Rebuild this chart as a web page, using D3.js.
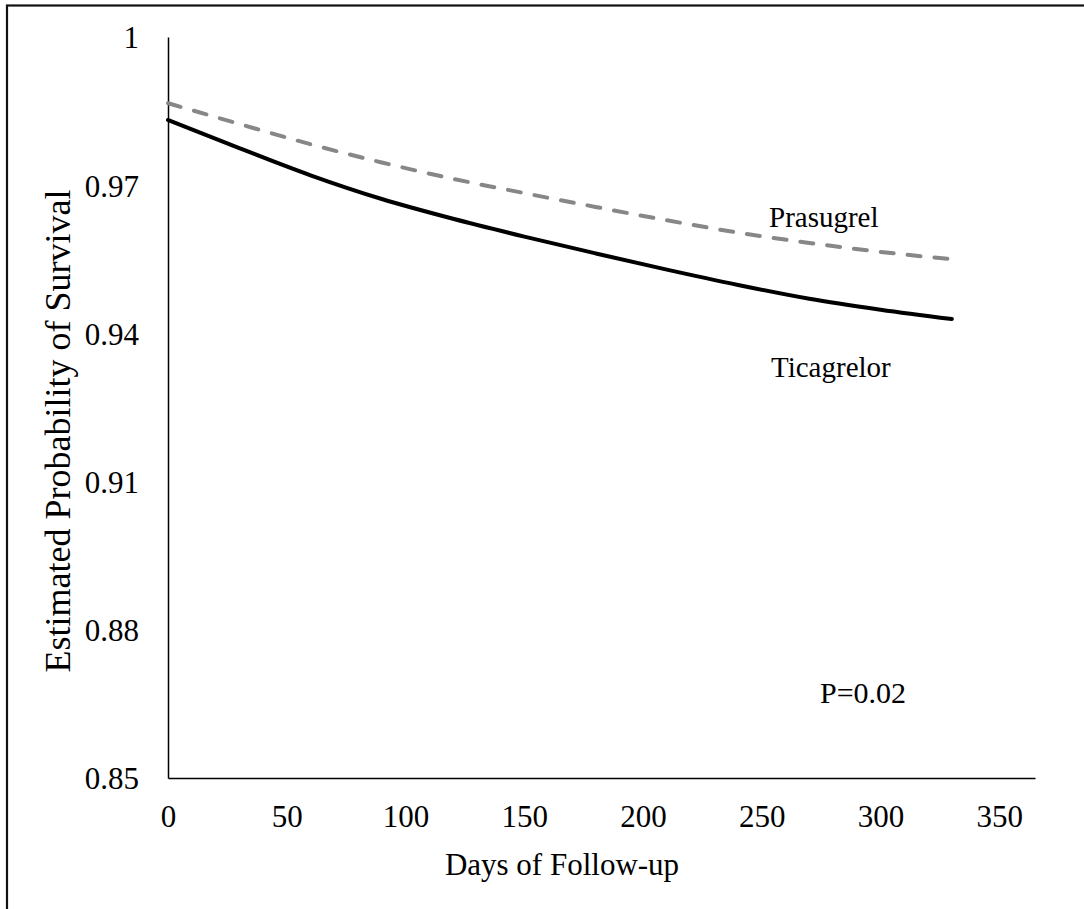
<!DOCTYPE html>
<html>
<head>
<meta charset="utf-8">
<script src="https://cdn.jsdelivr.net/npm/d3@7"></script>
<style>
  body { margin: 0; background: #fff; }
  text { font-family: "Liberation Serif", "Times New Roman", serif; fill: #000; }
</style>
</head>
<body>
<div id="chart"></div>
<script>
var width = 1084, height = 909;

// days of follow-up where the curves were read
var days = [0, 30, 60, 90, 120, 150, 180, 210, 240, 270, 300, 330];
var ticagrelor = [0.9832, 0.9775, 0.9720, 0.9672, 0.9632, 0.9596, 0.9562, 0.9529, 0.9498, 0.9470, 0.9448, 0.9429];
var prasugrel = [0.9866, 0.9824, 0.9783, 0.9746, 0.9713, 0.9684, 0.9656, 0.9629, 0.9604, 0.9583, 0.9565, 0.9550];

var xTicks = [0, 50, 100, 150, 200, 250, 300, 350];
var yTicks = [0.85, 0.88, 0.91, 0.94, 0.97, 1];
var yTickLabels = ["0.85", "0.88", "0.91", "0.94", "0.97", "1"];

var svg = d3.select("#chart").append("svg")
    .attr("width", width)
    .attr("height", height);

// outer frame (only left and top edges visible)
svg.append("rect")
    .attr("x", 7).attr("y", 5.5)
    .attr("width", 1200).attr("height", 1000)
    .attr("fill", "none")
    .attr("stroke", "#111")
    .attr("stroke-width", 2.2);

var xScale = d3.scaleLinear().domain([0, 365]).range([168, 1035]);
var yScale = d3.scaleLinear().domain([0.85, 1]).range([778, 37]);

// x axis
var xAxis = svg.append("g")
    .attr("transform", "translate(0,778)")
    .call(d3.axisBottom(xScale).tickValues(xTicks).tickSize(0).tickPadding(0));
xAxis.select(".domain").attr("stroke", "#000").attr("stroke-width", 1.5);
xAxis.selectAll("text")
    .attr("dy", null)
    .attr("y", 49)
    .style("font-size", "31px")
    .style("font-family", "Liberation Serif");

// y axis
var yAxis = svg.append("g")
    .attr("transform", "translate(168,0)")
    .call(d3.axisLeft(yScale).tickValues(yTicks).tickSize(0).tickPadding(0)
        .tickFormat(function(d, i) { return yTickLabels[i]; }));
yAxis.select(".domain").attr("stroke", "#000").attr("stroke-width", 1.5);
yAxis.selectAll("text")
    .attr("x", -29)
    .attr("dy", "0.35em")
    .style("font-size", "31px")
    .style("font-family", "Liberation Serif");

// axis titles
svg.append("text")
    .attr("x", 562).attr("y", 875)
    .attr("text-anchor", "middle")
    .style("font-size", "31px")
    .text("Days of Follow-up");

svg.append("text")
    .attr("transform", "translate(70,431) rotate(-90)")
    .attr("text-anchor", "middle")
    .style("font-size", "36px")
    .text("Estimated Probability of Survival");

// curves
var line = function(vals) {
    return d3.line()
        .x(function(d, i) { return xScale(days[i]); })
        .y(function(d) { return yScale(d); })
        .curve(d3.curveMonotoneX)(vals);
};

svg.append("path")
    .attr("d", line(prasugrel))
    .attr("fill", "none")
    .attr("stroke", "#878787")
    .attr("stroke-width", 4)
    .attr("stroke-linecap", "round")
    .attr("stroke-dasharray", "13,14");

svg.append("path")
    .attr("d", line(ticagrelor))
    .attr("fill", "none")
    .attr("stroke", "#000")
    .attr("stroke-width", 4)
    .attr("stroke-linecap", "round");

// annotations
svg.append("text").attr("x", 769).attr("y", 227).style("font-size", "29px").text("Prasugrel");
svg.append("text").attr("x", 771).attr("y", 377).style("font-size", "29px").text("Ticagrelor");
svg.append("text").attr("x", 820).attr("y", 703).style("font-size", "30px").text("P=0.02");
</script>
</body>
</html>
